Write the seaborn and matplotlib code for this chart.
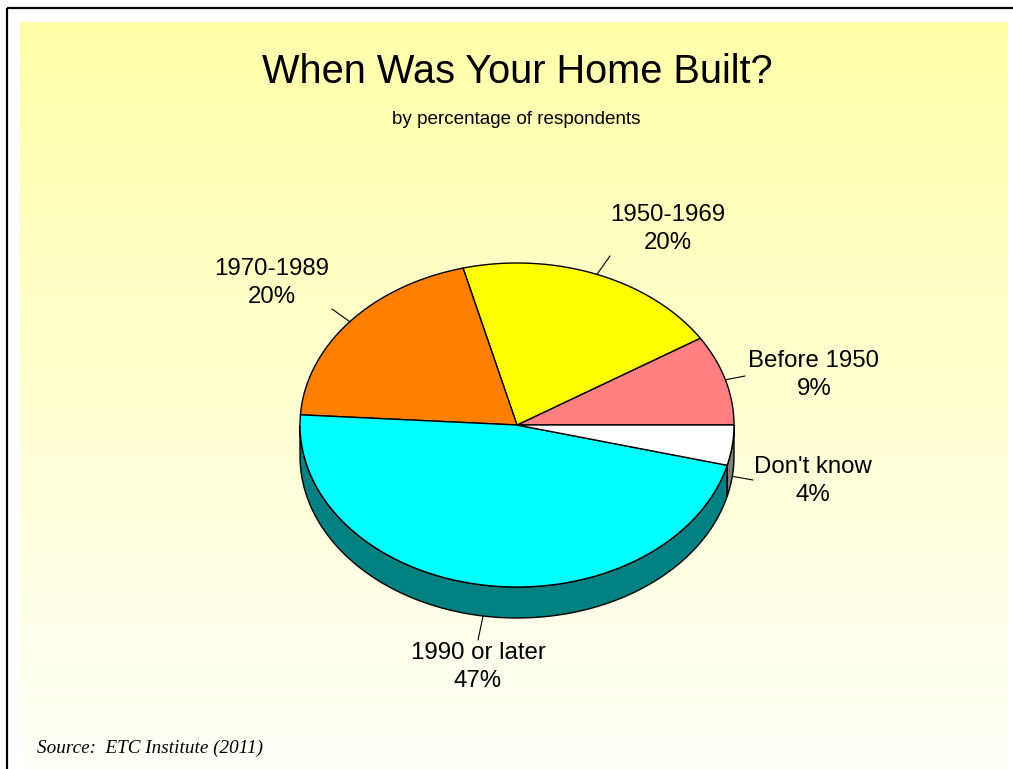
import numpy as np
import matplotlib
matplotlib.use("Agg")
import matplotlib.pyplot as plt
from matplotlib.patches import Polygon
import seaborn as sns

# Survey results
categories = ["Before 1950", "1950-1969", "1970-1989", "1990 or later", "Don't know"]
percentages = [9, 20, 20, 47, 4]
top_colors = ["#FF8080", "#FFFF00", "#FF8000", "#00FFFF", "#FFFFFF"]
side_colors = ["#804040", "#808000", "#804000", "#008080", "#808080"]

title = "When Was Your Home Built?"
subtitle = "by percentage of respondents"
source = "Source:  ETC Institute (2011)"

sns.set_theme(style="white")
plt.rcParams["font.family"] = ["Liberation Sans", "DejaVu Sans"]

W, H = 1013, 769
fig = plt.figure(figsize=(W / 100, H / 100), dpi=100)
fig.patch.set_facecolor("white")
ax = fig.add_axes([0, 0, 1, 1])
ax.set_xlim(0, W)
ax.set_ylim(H, 0)
ax.axis("off")

# Pale yellow gradient panel
n = 256
top_rgb = np.array([255, 255, 170]) / 255
bot_rgb = np.array([255, 255, 250]) / 255
grad = np.linspace(0, 1, n)[:, None, None]
img = top_rgb * (1 - grad) + bot_rgb * grad
img = np.repeat(img, 2, axis=1)
ax.imshow(img, extent=[20, 1008, H, 22], aspect="auto", zorder=0, interpolation="bilinear")

# Frame lines along the top and left
ax.plot([6.5, W], [7.5, 7.5], color="black", lw=1.6, zorder=1, solid_capstyle="butt")
ax.plot([6.5, 6.5], [7.5, H], color="black", lw=1.6, zorder=1, solid_capstyle="butt")

# Pie geometry
cx, cy, rx, ry, depth = 517, 425, 217, 162, 31

vals = np.array(percentages, dtype=float)
fr = vals / vals.sum()
ends = np.cumsum(fr) * 360
starts = ends - fr * 360


def top_pt(t):
    r = np.deg2rad(t)
    return cx + rx * np.cos(r), cy - ry * np.sin(r)


# Side walls (only the front half, 180..360 degrees, is visible)
for a0, a1, sc in zip(starts, ends, side_colors):
    lo, hi = max(a0, 180), min(a1, 360)
    if hi <= lo:
        continue
    ts = np.linspace(lo, hi, 120)
    xs = cx + rx * np.cos(np.deg2rad(ts))
    ys = cy - ry * np.sin(np.deg2rad(ts))
    pts = list(zip(xs, ys)) + list(zip(xs[::-1], ys[::-1] + depth))
    ax.add_patch(Polygon(pts, closed=True, facecolor=sc, edgecolor="black", lw=1.0, zorder=2))

# Top faces
for a0, a1, tc in zip(starts, ends, top_colors):
    ts = np.linspace(a0, a1, 200)
    xs = cx + rx * np.cos(np.deg2rad(ts))
    ys = cy - ry * np.sin(np.deg2rad(ts))
    pts = [(cx, cy)] + list(zip(xs, ys))
    ax.add_patch(Polygon(pts, closed=True, facecolor=tc, edgecolor="black", lw=1.0, zorder=3))

# Labels with leader lines
label_pos = {
    "Before 1950": (814, 375),
    "1950-1969": (668, 229),
    "1970-1989": (272, 283),
    "1990 or later": (478, 667),
    "Don't know": (813, 481),
}
leader_end = {
    "Before 1950": (745, 376),
    "1950-1969": (610, 256),
    "1970-1989": (332, 309),
    "1990 or later": (478, 640),
    "Don't know": (753, 480),
}
for cat, pct, a0, a1 in zip(categories, percentages, starts, ends):
    mid = (a0 + a1) / 2
    x0, y0 = top_pt(mid)
    if 180 < mid < 360:
        y0 += depth
    x1, y1 = leader_end[cat]
    ax.plot([x0, x1], [y0, y1], color="black", lw=0.8, zorder=4)
    lx, ly = label_pos[cat]
    ax.text(lx, ly, f"{cat}\n{pct}%", ha="center", va="center", fontsize=17.3,
            linespacing=1.32, color="black", zorder=5)

ax.text(517, 72, title, ha="center", va="center", fontsize=28.6, color="black")
ax.text(516, 119, subtitle, ha="center", va="center", fontsize=13.6, color="black")
ax.text(37, 748, source, ha="left", va="center", fontsize=13.8, style="italic",
        family=["Liberation Serif", "DejaVu Serif"], color="black")

fig.savefig("out.png", dpi=100)
